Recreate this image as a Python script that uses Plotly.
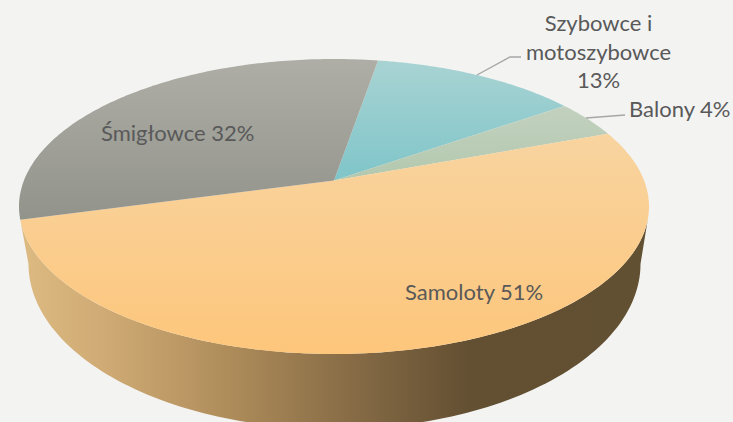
import math
import plotly.graph_objects as go

# Data, clockwise from the first slice (shares; labels show them rounded)
categories = ["Szybowce i<br>motoszybowce", "Balony", "Samoloty", "Śmigłowce"]
values = [12.6, 4.1, 51.4, 31.9]

# Drawing configuration
START_DEG = 9.6
TILT = 0.177
TOP = dict(cx=334.0, cy=206.5, rx=315.0, ry=147.5)
BASE = dict(cx=334.5, cy=264.0, rx=306.0, ry=165.0)
W, H = 733, 422
BG = "#f3f3f2"
TEXT = "#595959"
GRADS = [
    ("#a9d3d3", "#7fc5c9", 60, 180),
    ("#c2d1bf", "#b3c8ae", 105, 180),
    ("#f8d4a0", "#fdc67b", 132, 354),
    ("#aeaea6", "#92938b", 59, 219),
]
WALL_STOPS = [(0, "#dcb981"), (0.12, "#d0ab75"), (0.33, "#ae8c5a"),
              (0.526, "#876c46"), (0.72, "#634f32"), (1, "#625033")]


def project(theta):
    """Clockwise angle on the disc -> perspective point on the top face."""
    x, y = math.sin(theta), math.cos(theta)
    d = 1 + TILT * y
    yp = (y + TILT) / d
    xp = x * math.sqrt(1 - TILT ** 2) / d
    return TOP["cx"] + TOP["rx"] * xp, TOP["cy"] - TOP["ry"] * yp


def ellipse(e, a0, a1, n=120):
    pts = [a0 + (a1 - a0) * i / n for i in range(n + 1)]
    return ([e["cx"] + e["rx"] * math.cos(t) for t in pts],
            [e["cy"] + e["ry"] * math.sin(t) for t in pts])


fig = go.Figure()

# Side wall
ux, uy = ellipse(TOP, math.radians(175), math.radians(5))
lx, ly = ellipse(BASE, math.radians(0), math.radians(180))
fig.add_trace(go.Scatter(
    x=ux + lx, y=uy + ly, mode="none", fill="toself", hoverinfo="skip",
    fillgradient=dict(type="horizontal", colorscale=WALL_STOPS, start=28, stop=640),
))

# Top face slices
total = sum(values)
angle = math.radians(START_DEG)
apex = (TOP["cx"], TOP["cy"] - TOP["ry"] * TILT)
for val, (c0, c1, y0, y1) in zip(values, GRADS):
    sweep = 2 * math.pi * val / total
    n = max(8, int(val * 4))
    pts = [project(angle + sweep * i / n) for i in range(n + 1)]
    xs = [apex[0]] + [p[0] for p in pts] + [apex[0]]
    ys = [apex[1]] + [p[1] for p in pts] + [apex[1]]
    fig.add_trace(go.Scatter(
        x=xs, y=ys, mode="none", fill="toself", hoverinfo="skip",
        fillgradient=dict(type="vertical", colorscale=[(0, c0), (1, c1)], start=y0, stop=y1),
    ))
    angle += sweep

# Leader lines
for xs, ys in [([477, 510, 521], [75, 57, 57]), ([586, 625], [118, 115])]:
    fig.add_trace(go.Scatter(x=xs, y=ys, mode="lines", hoverinfo="skip",
                             line=dict(color="#a6a6a6", width=1.3)))

label_pos = [(598.5, 51), (679, 108.5), (474, 291.5), (177, 132.5)]
for cat, val, (x, y) in zip(categories, values, label_pos):
    sep = "<br>" if "<br>" in cat else " "
    fig.add_annotation(x=x, y=y, text=f"{cat}{sep}{val:.0f}%", showarrow=False,
                       xanchor="center", yanchor="middle", align="center",
                       font=dict(family="Lato", size=22, color=TEXT))

fig.update_layout(
    width=W, height=H, margin=dict(l=0, r=0, t=0, b=0), showlegend=False,
    paper_bgcolor=BG, plot_bgcolor=BG,
    xaxis=dict(range=[0, W], visible=False, fixedrange=True),
    yaxis=dict(range=[H, 0], visible=False, fixedrange=True),
)
fig.write_html("out.html", config={"displayModeBar": False},
               post_script="document.body.style.margin='0';document.body.style.background='%s';" % BG)
